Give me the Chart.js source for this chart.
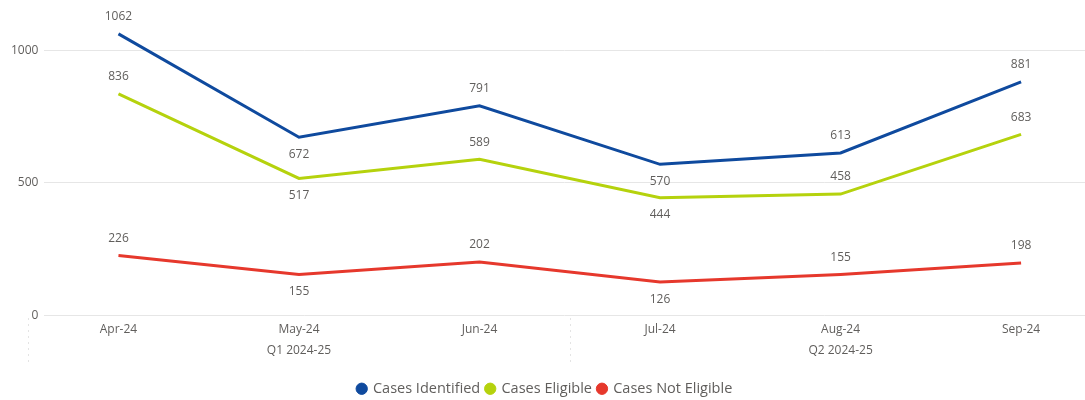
<!DOCTYPE html>
<html lang="en">
<head>
    <meta charset="UTF-8">
    <title>Cases by Month</title>
    <script src="https://cdn.jsdelivr.net/npm/chart.js"></script>
    <style>
        body { margin: 0; background: #fff; }
        #wrap { width: 1085px; height: 400px; position: relative; }
    </style>
</head>
<body>
    <div id="wrap"><canvas id="casesChart"></canvas></div>

    <script>
        const months = ['Apr-24', 'May-24', 'Jun-24', 'Jul-24', 'Aug-24', 'Sep-24'];
        const quarters = ['', 'Q1 2024-25', '', '', 'Q2 2024-25', ''];
        const casesIdentified = [1062, 672, 791, 570, 613, 881];
        const casesEligible = [836, 517, 589, 444, 458, 683];
        const casesNotEligible = [226, 155, 202, 126, 155, 198];
        const yTicks = [0, 500, 1000];

        // label above (-1) or below (+1) the point, per month
        const labelSide = [-1, 1, -1, 1, -1, -1];
        const textColor = '#605E5C';
        const fontFamily = "'Open Sans', 'Noto Sans', sans-serif";

        const dataLabels = {
            id: 'dataLabels',
            afterDatasetsDraw(chart) {
                const ctx = chart.ctx;
                ctx.save();
                ctx.font = '12px ' + fontFamily;
                ctx.fillStyle = textColor;
                ctx.textAlign = 'center';
                ctx.textBaseline = 'middle';
                chart.data.datasets.forEach((ds, i) => {
                    chart.getDatasetMeta(i).data.forEach((pt, j) => {
                        ctx.fillText(ds.data[j].y, pt.x, pt.y + labelSide[j] * 17);
                    });
                });
                ctx.restore();
            }
        };

        // dotted separators between quarters
        const quarterLines = {
            id: 'quarterLines',
            afterDraw(chart) {
                const ctx = chart.ctx;
                const x = chart.scales.x;
                const bottom = chart.chartArea.bottom;
                ctx.save();
                ctx.strokeStyle = '#c8c8c8';
                ctx.lineWidth = 1;
                ctx.setLineDash([1, 5]);
                [-0.5, 2.5, 5.5].forEach(v => {
                    const px = Math.round(x.getPixelForValue(v)) + 0.5;
                    ctx.beginPath();
                    ctx.moveTo(px, bottom + 3);
                    ctx.lineTo(px, bottom + 48);
                    ctx.stroke();
                });
                ctx.restore();
            }
        };

        const points = arr => arr.map((v, i) => ({ x: i, y: v }));

        new Chart(document.getElementById('casesChart'), {
            type: 'line',
            data: {
                datasets: [
                    { label: 'Cases Identified', data: points(casesIdentified), borderColor: '#0F4A9E', backgroundColor: '#0F4A9E' },
                    { label: 'Cases Eligible', data: points(casesEligible), borderColor: '#B5D20D', backgroundColor: '#B5D20D' },
                    { label: 'Cases Not Eligible', data: points(casesNotEligible), borderColor: '#E6382C', backgroundColor: '#E6382C' }
                ]
            },
            options: {
                responsive: true,
                maintainAspectRatio: false,
                animation: false,
                layout: { padding: { left: 5, top: 5, right: 0, bottom: -6 } },
                elements: {
                    line: { borderWidth: 3, tension: 0 },
                    point: { radius: 0, hoverRadius: 0 }
                },
                plugins: {
                    tooltip: { enabled: false },
                    legend: {
                        position: 'bottom',
                        labels: {
                            usePointStyle: true,
                            pointStyle: 'circle',
                            boxWidth: 8,
                            boxHeight: 8,
                            padding: 6,
                            color: textColor,
                            font: { family: fontFamily, size: 14.5 }
                        }
                    }
                },
                scales: {
                    x: {
                        type: 'linear',
                        min: -0.41,
                        max: 5.354,
                        grid: { display: false },
                        border: { display: false },
                        afterBuildTicks: axis => { axis.ticks = months.map((m, i) => ({ value: i })); },
                        afterFit: axis => { axis.height = 60; },
                        ticks: {
                            autoSkip: false,
                            maxRotation: 0,
                            padding: -4,
                            color: textColor,
                            font: { family: fontFamily, size: 12, lineHeight: 1.75 },
                            callback: v => quarters[v] ? [months[v], quarters[v]] : months[v]
                        }
                    },
                    y: {
                        min: 0,
                        max: 1140,
                        afterBuildTicks: axis => { axis.ticks = yTicks.map(v => ({ value: v })); },
                        grid: { color: '#e6e6e6', drawTicks: false },
                        border: { display: false },
                        ticks: {
                            padding: 6,
                            color: textColor,
                            font: { family: fontFamily, size: 12 },
                            callback: v => String(v)
                        }
                    }
                }
            },
            plugins: [dataLabels, quarterLines]
        });
    </script>
</body>
</html>
